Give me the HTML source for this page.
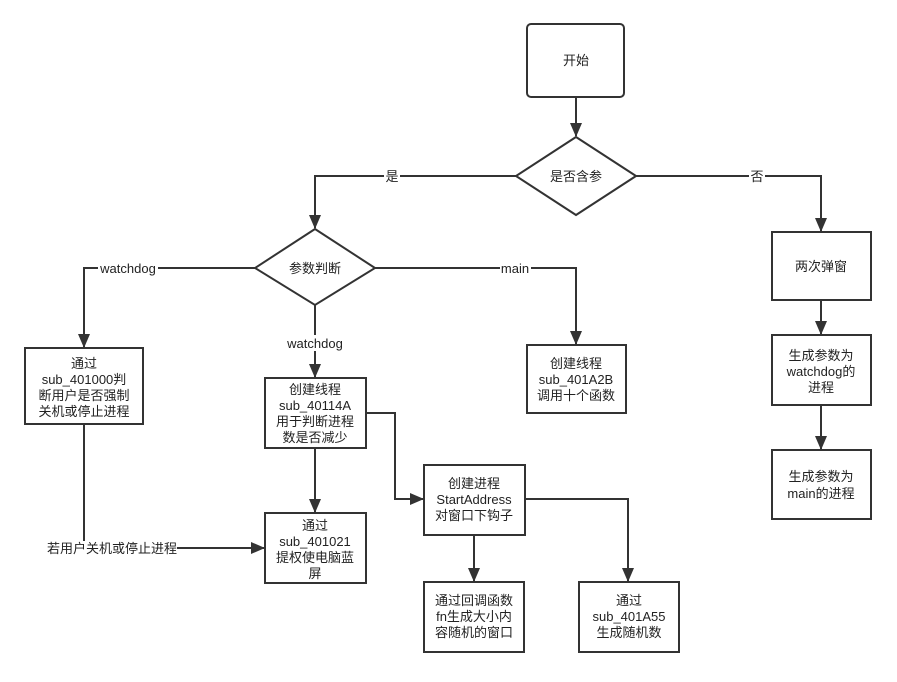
<!DOCTYPE html>
<html><head><meta charset="utf-8"><style>
body{margin:0;background:#fff;}
svg text{font-family:"Liberation Sans","Noto Sans CJK SC",sans-serif;font-size:13px;fill:#222;text-anchor:middle;}
</style></head><body>
<svg width="897" height="677" viewBox="0 0 897 677" xmlns="http://www.w3.org/2000/svg">
<defs><marker id="a" markerWidth="14" markerHeight="12" refX="13" refY="6" orient="auto" markerUnits="userSpaceOnUse"><path d="M0,0 L14,6 L0,12 z" fill="#333"/></marker></defs>
<g fill="none" stroke="#333" stroke-width="2">
<rect x="527" y="24" width="97" height="73" rx="4" fill="#fff"/>
<path d="M576,137 L636,176 L576,215 L516,176 Z" fill="#fff"/>
<rect x="772" y="232" width="99" height="68" fill="#fff"/>
<rect x="772" y="335" width="99" height="70" fill="#fff"/>
<rect x="772" y="450" width="99" height="69" fill="#fff"/>
<path d="M315,229 L375,268 L315,305 L255,268 Z" fill="#fff"/>
<rect x="25" y="348" width="118" height="76" fill="#fff"/>
<rect x="265" y="378" width="101" height="70" fill="#fff"/>
<rect x="265" y="513" width="101" height="70" fill="#fff"/>
<rect x="527" y="345" width="99" height="68" fill="#fff"/>
<rect x="424" y="465" width="101" height="70" fill="#fff"/>
<rect x="424" y="582" width="100" height="70" fill="#fff"/>
<rect x="579" y="582" width="100" height="70" fill="#fff"/>
<path d="M576,97 V136" marker-end="url(#a)"/>
<path d="M516,176 H315 V228" marker-end="url(#a)"/>
<path d="M636,176 H821 V231" marker-end="url(#a)"/>
<path d="M821,300 V334" marker-end="url(#a)"/>
<path d="M821,405 V449" marker-end="url(#a)"/>
<path d="M255,268 H84 V347" marker-end="url(#a)"/>
<path d="M315,305 V377" marker-end="url(#a)"/>
<path d="M375,268 H576 V344" marker-end="url(#a)"/>
<path d="M84,424 V548 H264" marker-end="url(#a)"/>
<path d="M315,448 V512" marker-end="url(#a)"/>
<path d="M366,413 H395 V499 H423" marker-end="url(#a)"/>
<path d="M474,535 V581" marker-end="url(#a)"/>
<path d="M525,499 H628 V581" marker-end="url(#a)"/>
</g>
<g fill="#fff">
<rect x="384" y="168" width="16" height="16"/>
<rect x="749" y="168" width="16" height="16"/>
<rect x="98" y="260" width="60" height="16"/>
<rect x="284" y="335" width="62" height="16"/>
<rect x="500" y="260" width="31" height="16"/>
<rect x="47" y="541" width="130" height="16"/>
</g>
<text x="576" y="65">开始</text>
<text x="576" y="181">是否含参</text>
<text x="392" y="181">是</text>
<text x="757" y="181">否</text>
<text x="821" y="271">两次弹窗</text>
<text x="821" y="360">生成参数为</text><text x="821" y="376">watchdog的</text><text x="821" y="392">进程</text>
<text x="821" y="481">生成参数为</text><text x="821" y="498">main的进程</text>
<text x="315" y="273">参数判断</text>
<text x="128" y="273">watchdog</text>
<text x="315" y="348">watchdog</text>
<text x="515" y="273">main</text>
<text x="84" y="368">通过</text><text x="84" y="384">sub_401000判</text><text x="84" y="400">断用户是否强制</text><text x="84" y="416">关机或停止进程</text>
<text x="315" y="394">创建线程</text><text x="315" y="410">sub_40114A</text><text x="315" y="426">用于判断进程</text><text x="315" y="442">数是否减少</text>
<text x="315" y="530">通过</text><text x="315" y="546">sub_401021</text><text x="315" y="562">提权使电脑蓝</text><text x="315" y="578">屏</text>
<text x="576" y="368">创建线程</text><text x="576" y="384">sub_401A2B</text><text x="576" y="400">调用十个函数</text>
<text x="474" y="488">创建进程</text><text x="474" y="504">StartAddress</text><text x="474" y="520">对窗口下钩子</text>
<text x="474" y="605">通过回调函数</text><text x="474" y="621">fn生成大小内</text><text x="474" y="637">容随机的窗口</text>
<text x="629" y="605">通过</text><text x="629" y="621">sub_401A55</text><text x="629" y="637">生成随机数</text>
<text x="112" y="553">若用户关机或停止进程</text>
</svg>
</body></html>
